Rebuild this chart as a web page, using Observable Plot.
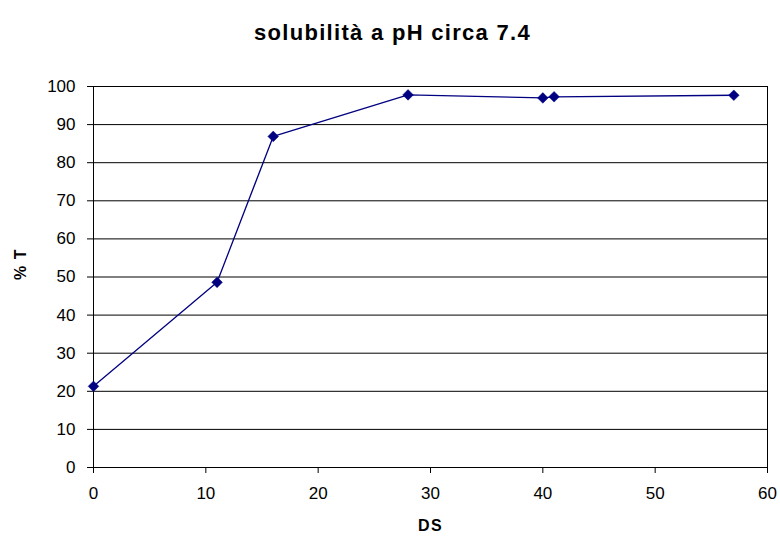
<!DOCTYPE html>
<html>
<head>
<meta charset="utf-8">
<script src="https://cdn.jsdelivr.net/npm/d3@7"></script>
<script src="https://cdn.jsdelivr.net/npm/@observablehq/plot@0.6"></script>
<style>
  html, body { margin: 0; padding: 0; background: #fff; }
  #chart svg { display: block; background: #fff; }
</style>
</head>
<body>
<div id="chart"></div>
<script>
const title = "solubilità a pH circa 7.4";
const xLabel = "DS";
const yLabel = "% T";
const ds = [0, 11, 16, 28, 40, 41, 57];
const pctT = [21.3, 48.6, 86.9, 97.8, 97.0, 97.3, 97.7];
const xTicks = [0, 10, 20, 30, 40, 50, 60];
const yTicks = [0, 10, 20, 30, 40, 50, 60, 70, 80, 90, 100];

const data = ds.map((d, i) => ({ds: d, t: pctT[i]}));
const navy = "#000080";
const font = "'Liberation Sans', Arial, sans-serif";

const chart = Plot.plot({
  width: 780,
  height: 538,
  marginLeft: 93,
  marginRight: 13,
  marginTop: 86,
  marginBottom: 71,
  style: {fontFamily: font, fontSize: "17px", color: "#000", background: "#fff"},
  x: {domain: [0, 60]},
  y: {domain: [0, 100]},
  marks: [
    Plot.gridY(yTicks, {stroke: "#000", strokeOpacity: 1, strokeWidth: 1}),
    Plot.frame({stroke: "#000", strokeWidth: 1}),
    Plot.axisX(xTicks, {tickSize: 6, tickPadding: 13, fontSize: 17, label: null, stroke: "#000"}),
    Plot.axisY(yTicks, {tickSize: 6, tickPadding: 12, fontSize: 17, label: null, stroke: "#000"}),
    Plot.line(data, {x: "ds", y: "t", stroke: navy, strokeWidth: 1.3}),
    Plot.dot(data, {x: "ds", y: "t", symbol: "diamond2", r: 4.8, fill: navy, stroke: navy, strokeWidth: 0.5}),
    Plot.text([title], {frameAnchor: "top-left", dx: 299, dy: -62, text: d => d, textAnchor: "middle", fontSize: 22, fontWeight: "bold", fill: "#000"}),
    Plot.text([xLabel], {frameAnchor: "bottom", dy: 63, text: d => d, fontSize: 16, fontWeight: "bold", fill: "#000"}),
    Plot.text([yLabel], {frameAnchor: "left", dx: -73, dy: 3, rotate: -90, text: d => d, fontSize: 16, fontWeight: "bold", fill: "#000"})
  ]
});
const spacing = {[title]: "1.3px", [xLabel]: "1.5px", [yLabel]: "1px"};
chart.querySelectorAll("text").forEach(t => {
  const s = spacing[t.textContent];
  if (s) t.style.letterSpacing = s;
});
document.getElementById("chart").append(chart);
</script>
</body>
</html>
